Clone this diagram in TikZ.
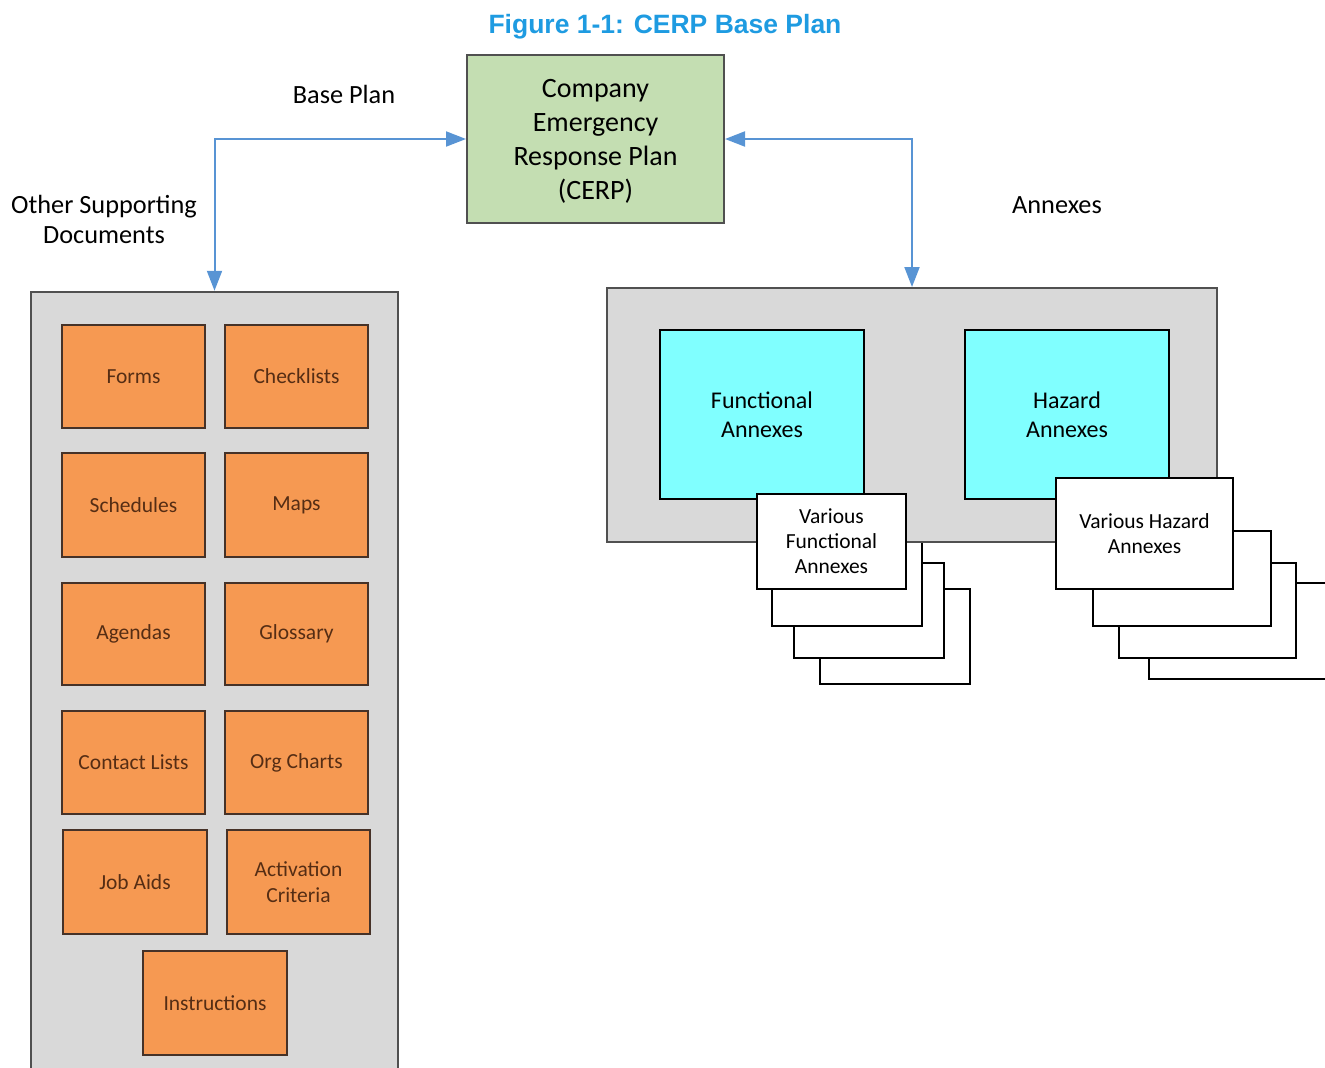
\documentclass[tikz,border=0pt]{standalone}
\usepackage{fontspec}
\setmainfont{Carlito}
\newfontfamily\titlefont{Liberation Sans}
\usetikzlibrary{arrows.meta}
\definecolor{titleblue}{RGB}{30,155,225}
\definecolor{linkblue}{RGB}{88,148,212}
\definecolor{panelgray}{RGB}{217,217,217}
\definecolor{panelborder}{RGB}{80,80,80}
\definecolor{orangefill}{RGB}{246,153,82}
\definecolor{orangeborder}{RGB}{70,50,40}
\definecolor{orangetext}{RGB}{85,45,20}
\definecolor{greenfill}{RGB}{196,222,178}
\definecolor{cyanfill}{RGB}{128,255,255}
\begin{document}
\begin{tikzpicture}[x=1pt,y=-1pt,
  panel/.style={draw=panelborder,fill=panelgray,line width=2.5pt,inner sep=0pt},
  orabox/.style={draw=orangeborder,fill=orangefill,line width=2pt,text=orangetext,
    font=\fontsize{21.5}{26}\selectfont,align=center,inner sep=0pt},
  cyanbox/.style={draw=black,fill=cyanfill,line width=2pt,
    font=\fontsize{24}{29}\selectfont,align=center,inner sep=0pt},
  whitebox/.style={draw=black,fill=white,line width=1.8pt,
    font=\fontsize{21.5}{25}\selectfont,align=center,inner sep=0pt},
  backbox/.style={draw=black,fill=white,line width=1.8pt},
  label/.style={font=\fontsize{26.3}{30}\selectfont,align=center,inner sep=0pt},
  link/.style={draw=linkblue,line width=2pt,{Triangle[length=20pt,width=15pt]}-{Triangle[length=20pt,width=15pt]}}
]
\useasboundingbox (0,0) rectangle (1325,1068);

% title
\node[font=\titlefont\bfseries\fontsize{26.5}{30}\selectfont,text=titleblue,inner sep=0pt] (title) at (665,27) {Figure 1-1: CERP Base Plan};

% central plan
\node[draw=panelborder,fill=greenfill,line width=2pt,minimum width=257,minimum height=168,
  font=\fontsize{28}{34}\selectfont,align=center,inner sep=0pt] (cerp) at (595.5,139)
  {\raisebox{-2.5pt}[\height][\depth]{\parbox{250pt}{\centering Company\\Emergency\\Response Plan\\(CERP)}}};

% labels
\node[label] (lbase) at (344,94) {Base Plan};
\node[label] (lother) at (104,219) {Other Supporting\\Documents};
\node[label] (lannex) at (1057,205) {Annexes};

% left panel
\node[panel,minimum width=367,minimum height=790] (leftpanel) at (214.5,687) {};

\node[orabox,minimum width=143,minimum height=103] (forms) at (133.5,376.5) {Forms};
\node[orabox,minimum width=143,minimum height=103] (check) at (296.5,376.5) {Checklists};
\node[orabox,minimum width=143,minimum height=104] (sched) at (133.5,505) {Schedules};
\node[orabox,minimum width=143,minimum height=104] (maps) at (296.5,505) {Maps};
\node[orabox,minimum width=143,minimum height=102] (agenda) at (133.5,634) {Agendas};
\node[orabox,minimum width=143,minimum height=102] (gloss) at (296.5,634) {Glossary};
\node[orabox,minimum width=143,minimum height=103] (contact) at (133.5,762.5) {Contact Lists};
\node[orabox,minimum width=143,minimum height=103] (org) at (296.5,762.5) {Org Charts};
\node[orabox,minimum width=144,minimum height=104] (jobaids) at (135,882) {Job Aids};
\node[orabox,minimum width=143,minimum height=104] (activ) at (298.5,882) {Activation\\Criteria};
\node[orabox,minimum width=144,minimum height=104] (instr) at (215,1003) {Instructions};

% back sheets (behind the right panel)
\draw[backbox] (820,589) rectangle (970,684);
\draw[backbox] (794,563) rectangle (944,658);
\draw[backbox] (772,531) rectangle (922,626);
\draw[backbox] (1149,583) rectangle (1328,679);
\draw[backbox] (1119,563) rectangle (1296,658);
\draw[backbox] (1093,531) rectangle (1271,626);

% right panel
\node[panel,line width=2pt,minimum width=610,minimum height=254] (rightpanel) at (912,415) {};
\node[cyanbox,minimum width=204,minimum height=169] (func) at (762,414.5) {Functional\\Annexes};
\node[cyanbox,minimum width=204,minimum height=169] (haz) at (1067,414.5) {Hazard\\Annexes};

\node[whitebox,minimum width=149,minimum height=95] (vfunc) at (831.5,541.5) {Various\\Functional\\Annexes};
\node[whitebox,minimum width=177,minimum height=111] (vhaz) at (1144.5,533.5) {Various Hazard\\Annexes};

% connectors
\draw[link] (leftpanel.north) |- (cerp.west);
\draw[link] (rightpanel.north) |- (cerp.east);
\end{tikzpicture}
\end{document}
